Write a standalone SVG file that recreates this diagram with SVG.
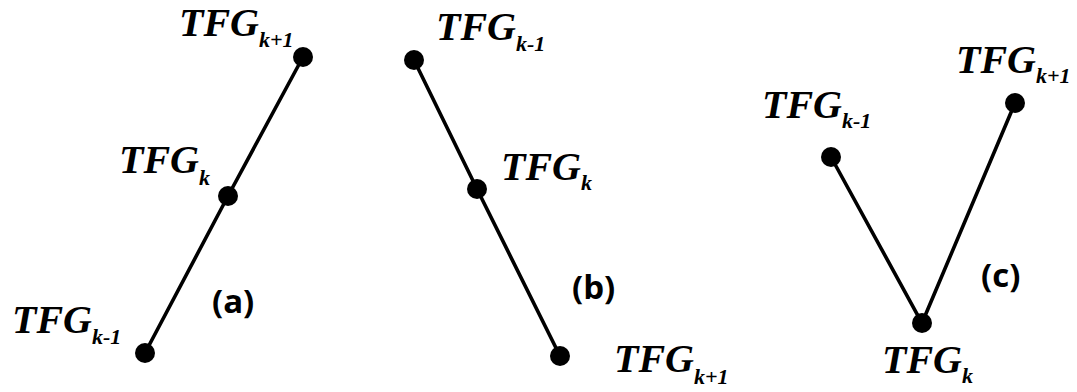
<svg xmlns="http://www.w3.org/2000/svg" width="1077" height="392" viewBox="0 0 1077 392">
<style>
.lbl{font-family:"Liberation Serif","Times New Roman",serif;font-weight:bold;font-style:italic;font-size:40px;fill:#000}
.sub{font-size:22px}
.cap{font-family:"Open Sans","Liberation Sans",sans-serif;font-weight:bold;font-size:33px;fill:#000}
.dot{fill:#000}
.ln{stroke:#000;stroke-width:3.6;fill:none;stroke-linecap:round}
</style>
<rect width="1077" height="392" fill="#fff"/>
<g id="connectors">
<polyline class="ln" points="303,57 228,196 145,353"/>
<polyline class="ln" points="414,60 477,189 560,356"/>
<polyline class="ln" points="831,157 922,323 1015,103"/>
</g>
<g id="a">
<g id="a-top"><circle class="dot" cx="303" cy="57" r="10"/><text class="lbl" x="179" y="36">TFG<tspan class="sub" dy="11">k+1</tspan></text></g>
<g id="a-mid"><circle class="dot" cx="228" cy="196" r="10"/><text class="lbl" x="119" y="173">TFG<tspan class="sub" dy="12">k</tspan></text></g>
<g id="a-bot"><circle class="dot" cx="145" cy="353" r="10"/><text class="lbl" x="12" y="333">TFG<tspan class="sub" dy="11">k-1</tspan></text></g>
<text class="cap" x="212" y="313">(a)</text>
</g>
<g id="b">
<g id="b-top"><circle class="dot" cx="414" cy="60" r="10"/><text class="lbl" x="436" y="40">TFG<tspan class="sub" dy="11">k-1</tspan></text></g>
<g id="b-mid"><circle class="dot" cx="477" cy="189" r="10"/><text class="lbl" x="501" y="180">TFG<tspan class="sub" dy="10">k</tspan></text></g>
<g id="b-bot"><circle class="dot" cx="560" cy="356" r="10"/><text class="lbl" x="614" y="372">TFG<tspan class="sub" dy="12">k+1</tspan></text></g>
<text class="cap" x="572" y="299">(b)</text>
</g>
<g id="c">
<g id="c-left"><circle class="dot" cx="831" cy="157" r="10"/><text class="lbl" x="762" y="118">TFG<tspan class="sub" dy="10">k-1</tspan></text></g>
<g id="c-bot"><circle class="dot" cx="922" cy="323" r="10"/><text class="lbl" x="882" y="373">TFG<tspan class="sub" dy="10">k</tspan></text></g>
<g id="c-right"><circle class="dot" cx="1015" cy="103" r="10"/><text class="lbl" x="956" y="73">TFG<tspan class="sub" dy="10">k+1</tspan></text></g>
<text class="cap" x="981" y="287">(c)</text>
</g>
</svg>
